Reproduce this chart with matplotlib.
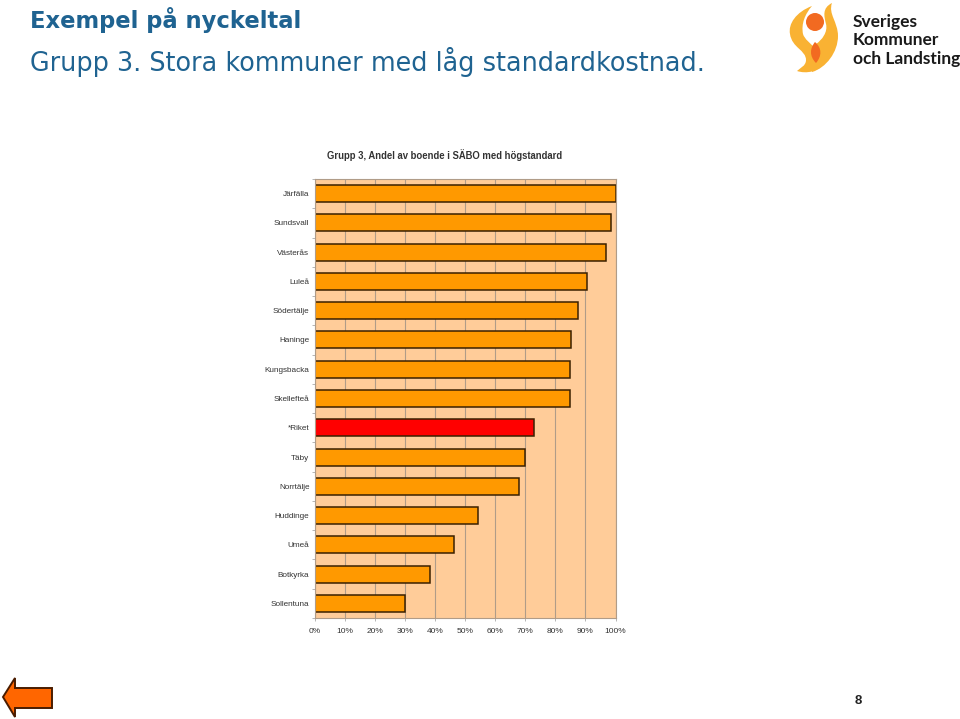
import matplotlib
matplotlib.use('Agg')
import matplotlib.pyplot as plt
from matplotlib.patches import Polygon, PathPatch, Circle
from matplotlib.path import Path

categories = ['Järfälla', 'Sundsvall', 'Västerås', 'Luleå', 'Södertälje', 'Haninge',
              'Kungsbacka', 'Skellefteå', '*Riket', 'Täby', 'Norrtälje', 'Huddinge',
              'Umeå', 'Botkyrka', 'Sollentuna']
values = [100, 98.4, 97, 90.6, 87.6, 85.2, 85, 85, 72.9, 70, 67.8, 54.2, 46.4, 38.2, 30]
ticks = [0, 10, 20, 30, 40, 50, 60, 70, 80, 90, 100]
BLUE = '#1f6391'
W, H = 960, 719

fig = plt.figure(figsize=(9.6, 7.19), dpi=100)
bg = fig.add_axes([0, 0, 1, 1])
bg.set_xlim(0, W)
bg.set_ylim(H, 0)
bg.axis('off')

bg.text(30, 20, 'Exempel på nyckeltal', color=BLUE, fontsize=16.3, fontweight='bold',
        family='DejaVu Sans', va='center', ha='left')
bg.text(30, 62, 'Grupp 3. Stora kommuner med låg standardkostnad.', color=BLUE, fontsize=18.4,
        family='DejaVu Sans', va='center', ha='left')

# logo
def curve(start, *segs):
    verts = [start]
    for s in segs:
        verts += list(s)
    return Path(verts, [1] + [4] * (len(verts) - 1))

flame_l = curve((812, 6), [(796, 12), (788, 24), (790, 34)], [(792, 48), (806, 50), (806, 60)],
                [(806, 66), (800, 68), (797, 71)], [(806, 74), (820, 72), (823, 62)],
                [(826, 52), (806, 44), (803, 34)], [(801, 24), (805, 14), (812, 6)])
flame_r = curve((832, 3), [(822, 8), (824, 16), (826, 24)], [(828, 32), (822, 40), (816, 44)],
                [(812, 48), (810, 54), (812, 72)], [(826, 68), (838, 52), (838, 36)],
                [(838, 22), (828, 14), (832, 3)])
almond = curve((815, 42), [(810, 48), (809, 56), (816, 63)], [(822, 56), (822, 48), (815, 42)])
bg.add_patch(PathPatch(flame_l, fc='#f9b233', ec='none'))
bg.add_patch(PathPatch(flame_r, fc='#f9b233', ec='none'))
bg.add_patch(Circle((815, 22), 9, fc='#f26a21', ec='none'))
bg.add_patch(PathPatch(almond, fc='#f26a21', ec='none'))
for y, line in zip([22, 40, 59], ['Sveriges', 'Kommuner', 'och Landsting']):
    bg.text(853, y, line, color='#1a1a1a', fontsize=12.5, family='Lato',
            fontweight='bold', va='center', ha='left')

# back arrow
bg.add_patch(Polygon([(3, 697), (15, 678), (15, 688), (52, 688), (52, 708), (15, 708), (15, 717)],
                     closed=True, fc='#ff6600', ec='#4a1c00', lw=1.4))

bg.text(858, 701, '8', color='#222222', fontsize=9.5, fontweight='bold',
        family='Liberation Sans', va='center', ha='center')

# chart
ax = fig.add_axes([315 / W, 1 - 618 / H, 300.5 / W, 439 / H])
ax.set_facecolor('#ffcc99')
pos = list(range(len(categories)))
colors = ['#ff0000' if c == '*Riket' else '#ff9900' for c in categories]
ax.set_axisbelow(True)
ax.grid(axis='x', color='#b09c88', lw=0.8)
ax.barh(pos, values, height=0.58, color=colors, edgecolor='#3a2000', lw=1.1)
ax.set_ylim(len(categories) - 0.5, -0.5)
ax.set_xlim(0, 100)
ax.set_yticks(pos)
ax.set_yticklabels(categories)
ax.set_yticks([p - 0.5 for p in pos] + [len(pos) - 0.5], minor=True)
ax.set_xticks(ticks)
ax.set_xticklabels([str(t) + '%' for t in ticks])
ax.tick_params(axis='x', labelsize=6, length=2, width=0.5, color='#999999',
               labelcolor='#333333', pad=5)
ax.tick_params(axis='y', which='major', labelsize=5.9, length=0, labelcolor='#333333', pad=4)
ax.tick_params(axis='y', which='minor', length=2, width=0.5, color='#999999')
for lab in ax.get_xticklabels() + ax.get_yticklabels():
    lab.set_family('Liberation Sans')
for s in ax.spines.values():
    s.set_color('#b09c88')
    s.set_linewidth(0.8)

bg.text(445, 155, 'Grupp 3, Andel av boende i SÄBO med högstandard', color='#333333',
        fontsize=6.85, fontweight='bold', family='Liberation Sans', va='center', ha='center')

fig.savefig('out.png', dpi=100)
